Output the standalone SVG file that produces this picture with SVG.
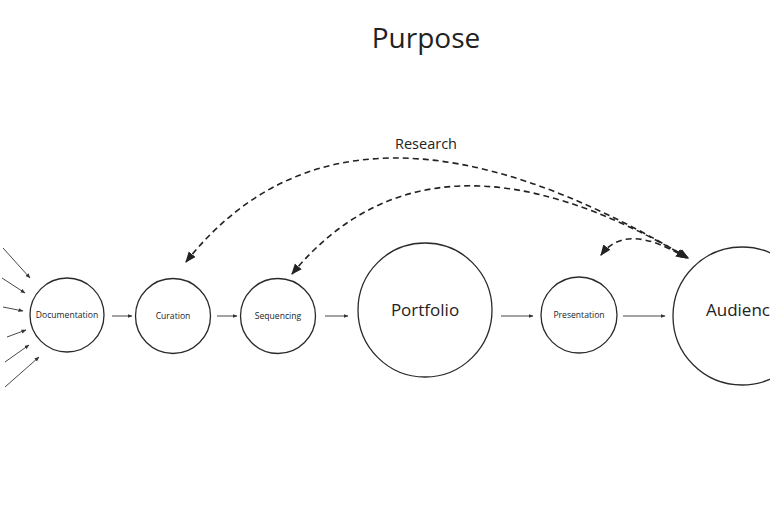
<svg xmlns="http://www.w3.org/2000/svg" width="770" height="518" viewBox="0 0 770 518">
<defs>
<style>
.node{fill:#fff;stroke:#2a2a2a;stroke-width:1.3}
.lbl{font-family:"Open Sans","Noto Sans",sans-serif;fill:#222;text-anchor:middle}
.sm{font-size:8.6px}
.arr{stroke:#333;stroke-width:0.9;fill:none;marker-end:url(#ah)}
.dash{stroke:#222;stroke-width:1.6;fill:none;stroke-dasharray:6 4;marker-start:url(#dh);marker-end:url(#dh)}
</style>
<marker id="ah" viewBox="0 0 10 10" refX="9" refY="5" markerWidth="5" markerHeight="5" orient="auto" markerUnits="userSpaceOnUse"><path d="M0,1 L10,5 L0,9 z" fill="#333"/></marker>
<marker id="dh" viewBox="0 0 10 10" refX="9" refY="5" markerWidth="11" markerHeight="11" orient="auto-start-reverse" markerUnits="userSpaceOnUse"><path d="M0,1 L10,5 L0,9 z" fill="#222"/></marker>
</defs>
<rect width="770" height="518" fill="#fff"/>
<text x="426" y="48" class="lbl" style="font-size:28px">Purpose</text>
<text x="426" y="149" class="lbl" style="font-size:14.5px">Research</text>
<g id="connectors">
<line class="arr" x1="3" y1="248" x2="30" y2="278"/>
<line class="arr" x1="2" y1="278" x2="25" y2="293"/>
<line class="arr" x1="3" y1="307" x2="23" y2="311"/>
<line class="arr" x1="7" y1="337" x2="26" y2="330"/>
<line class="arr" x1="5" y1="362" x2="29" y2="345"/>
<line class="arr" x1="5" y1="387" x2="39" y2="357"/>
<line class="arr" x1="112" y1="316" x2="132" y2="316"/>
<line class="arr" x1="217" y1="316" x2="237" y2="316"/>
<line class="arr" x1="325" y1="316" x2="348" y2="316"/>
<line class="arr" x1="501" y1="316" x2="533" y2="316"/>
<line class="arr" x1="623" y1="316" x2="665" y2="316"/>
<path class="dash" d="M186,262 Q349,56 688,258"/>
<path class="dash" d="M292,274 Q430,106 688,258"/>
<path class="dash" d="M601,255 Q626,221 686,258"/>
</g>
<g id="documentation"><circle class="node" cx="67" cy="315" r="37"/><text x="67" y="318" class="lbl sm">Documentation</text></g>
<g id="curation"><circle class="node" cx="173" cy="316" r="37.5"/><text x="173" y="319" class="lbl sm">Curation</text></g>
<g id="sequencing"><circle class="node" cx="278" cy="316" r="37.5"/><text x="278" y="319" class="lbl sm">Sequencing</text></g>
<g id="portfolio"><circle class="node" cx="425" cy="310" r="67"/><text x="425" y="316" class="lbl" style="font-size:17px">Portfolio</text></g>
<g id="presentation"><circle class="node" cx="579" cy="315" r="38"/><text x="579" y="318" class="lbl sm">Presentation</text></g>
<g id="audience"><circle class="node" cx="742" cy="316" r="69"/><text x="706" y="316" class="lbl" style="font-size:17px;text-anchor:start">Audience</text></g>
</svg>
